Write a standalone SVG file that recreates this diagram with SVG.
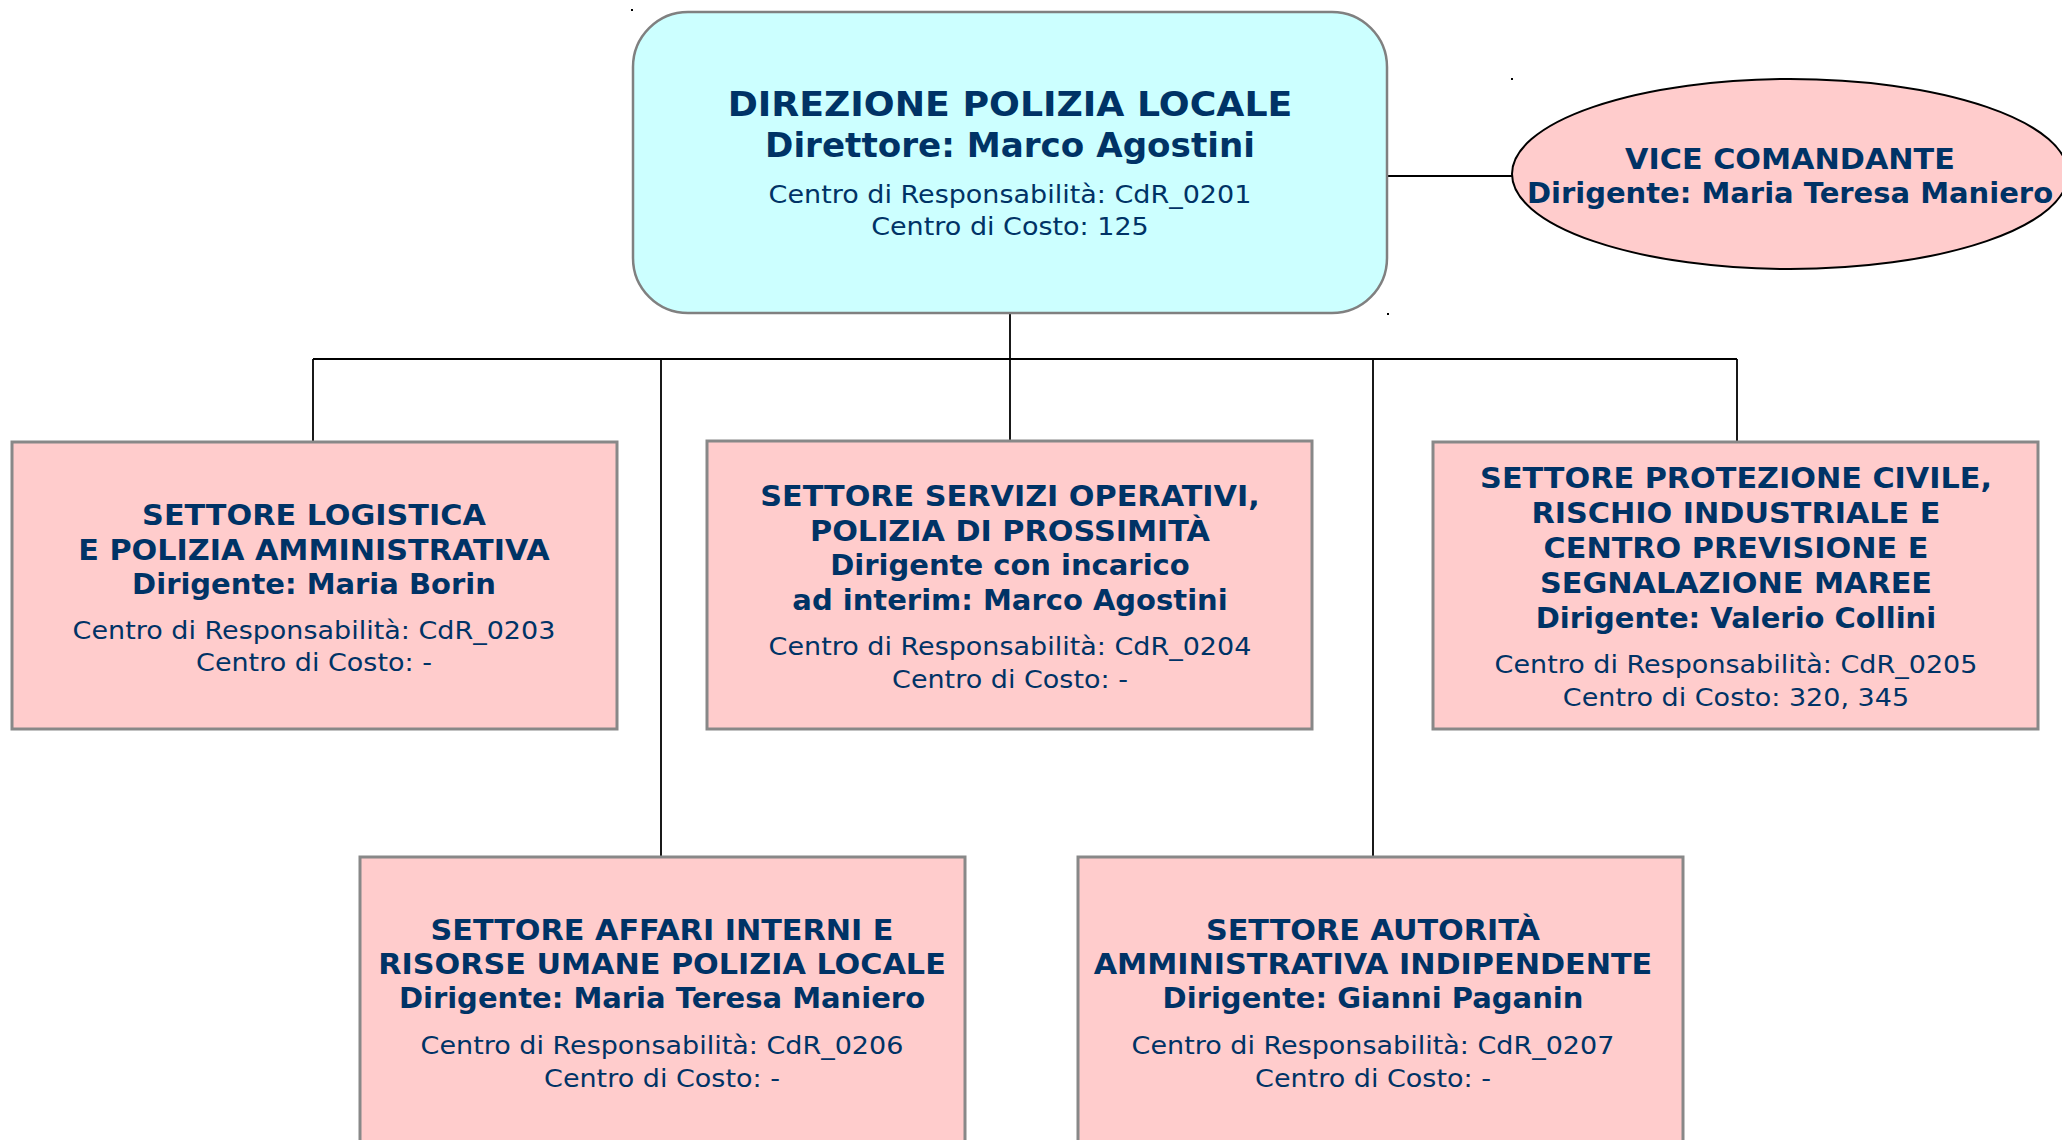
<svg xmlns="http://www.w3.org/2000/svg" width="2062" height="1140" viewBox="0 0 2062 1140">
<style>
text{font-family:"DejaVu Sans",sans-serif;fill:#003366;text-anchor:middle;transform-box:fill-box;transform-origin:center}
.bc{font-weight:bold;font-size:27.5px;transform:scaleX(1.1)}
.bm{font-weight:bold;font-size:27.5px;transform:scaleX(1.055)}
.tc{font-weight:bold;font-size:33px;transform:scaleX(1.1)}
.tm{font-weight:bold;font-size:33px;transform:scaleX(1.035)}
.r{font-size:24px;transform:scaleX(1.125)}
.box{fill:#FFCCCC;stroke:#888888;stroke-width:3}
.conn line{stroke:#000;stroke-width:1.8}
.dot{fill:#000}
</style>
<rect width="2062" height="1140" fill="#fff"/>
<g class="conn" id="connectors">
<line x1="1010" y1="313" x2="1010" y2="359"/>
<line x1="313" y1="359" x2="1737" y2="359"/>
<line x1="313" y1="359" x2="313" y2="442"/>
<line x1="661" y1="359" x2="661" y2="857"/>
<line x1="1010" y1="359" x2="1010" y2="441"/>
<line x1="1373" y1="359" x2="1373" y2="857"/>
<line x1="1737" y1="359" x2="1737" y2="442"/>
<line x1="1387" y1="176" x2="1512" y2="176"/>
</g>
<g id="direzione">
<rect x="633" y="12" width="754" height="301" rx="55" ry="55" fill="#CCFFFF" stroke="#808080" stroke-width="2.5"/>
<text class="tc" x="1010" y="116">DIREZIONE POLIZIA LOCALE</text>
<text class="tm" x="1010" y="157">Direttore: Marco Agostini</text>
<text class="r" x="1010" y="203">Centro di Responsabilità: CdR_0201</text>
<text class="r" x="1010" y="235">Centro di Costo: 125</text>
<rect class="dot" x="631" y="9" width="2" height="2"/>
<rect class="dot" x="1387" y="313" width="2" height="2"/>
</g>
<g id="vice">
<ellipse cx="1790" cy="174" rx="278" ry="95" fill="#FFCCCC" stroke="#000" stroke-width="2"/>
<text class="bc" x="1790" y="169">VICE COMANDANTE</text>
<text class="bm" x="1790" y="203">Dirigente: Maria Teresa Maniero</text>
<rect class="dot" x="1511" y="78" width="2" height="2"/>
</g>
<g id="logistica">
<rect class="box" x="12" y="442" width="605" height="287"/>
<text class="bc" x="314" y="525">SETTORE LOGISTICA</text>
<text class="bc" x="314" y="560">E POLIZIA AMMINISTRATIVA</text>
<text class="bm" x="314" y="594">Dirigente: Maria Borin</text>
<text class="r" x="314" y="639">Centro di Responsabilità: CdR_0203</text>
<text class="r" x="314" y="671">Centro di Costo: -</text>
</g>
<g id="servizi">
<rect class="box" x="707" y="441" width="605" height="288"/>
<text class="bc" x="1010" y="506">SETTORE SERVIZI OPERATIVI,</text>
<text class="bc" x="1010" y="541">POLIZIA DI PROSSIMITÀ</text>
<text class="bm" x="1010" y="575">Dirigente con incarico</text>
<text class="bm" x="1010" y="610">ad interim: Marco Agostini</text>
<text class="r" x="1010" y="655">Centro di Responsabilità: CdR_0204</text>
<text class="r" x="1010" y="688">Centro di Costo: -</text>
</g>
<g id="protezione">
<rect class="box" x="1433" y="442" width="605" height="287"/>
<text class="bc" x="1736" y="488">SETTORE PROTEZIONE CIVILE,</text>
<text class="bc" x="1736" y="523">RISCHIO INDUSTRIALE E</text>
<text class="bc" x="1736" y="558">CENTRO PREVISIONE E</text>
<text class="bc" x="1736" y="593">SEGNALAZIONE MAREE</text>
<text class="bm" x="1736" y="628">Dirigente: Valerio Collini</text>
<text class="r" x="1736" y="673">Centro di Responsabilità: CdR_0205</text>
<text class="r" x="1736" y="706">Centro di Costo: 320, 345</text>
</g>
<g id="affari">
<rect class="box" x="360" y="857" width="605" height="300"/>
<text class="bc" x="662" y="940">SETTORE AFFARI INTERNI E</text>
<text class="bc" x="662" y="974">RISORSE UMANE POLIZIA LOCALE</text>
<text class="bm" x="662" y="1008">Dirigente: Maria Teresa Maniero</text>
<text class="r" x="662" y="1054">Centro di Responsabilità: CdR_0206</text>
<text class="r" x="662" y="1087">Centro di Costo: -</text>
</g>
<g id="autorita">
<rect class="box" x="1078" y="857" width="605" height="300"/>
<text class="bc" x="1373" y="940">SETTORE AUTORITÀ</text>
<text class="bc" x="1373" y="974">AMMINISTRATIVA INDIPENDENTE</text>
<text class="bm" x="1373" y="1008">Dirigente: Gianni Paganin</text>
<text class="r" x="1373" y="1054">Centro di Responsabilità: CdR_0207</text>
<text class="r" x="1373" y="1087">Centro di Costo: -</text>
</g>
</svg>
